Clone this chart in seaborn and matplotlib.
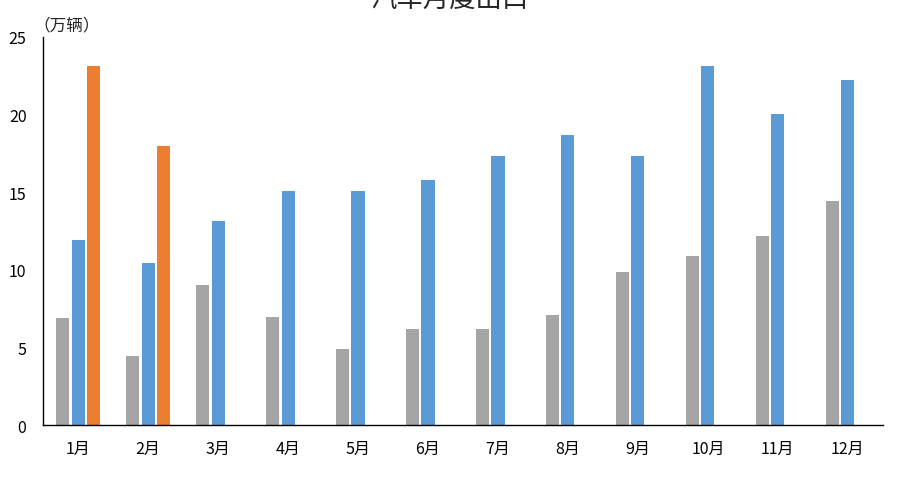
import numpy as np
import pandas as pd
import matplotlib
matplotlib.use("Agg")
import matplotlib.pyplot as plt
import seaborn as sns

months = ["1月", "2月", "3月", "4月", "5月", "6月", "7月", "8月", "9月", "10月", "11月", "12月"]
years = ["2020年", "2021年", "2022年"]
exports_2020 = [6.9, 4.45, 9.0, 6.95, 4.9, 6.2, 6.2, 7.1, 9.85, 10.9, 12.2, 14.45]
exports_2021 = [11.9, 10.45, 13.15, 15.1, 15.1, 15.8, 17.35, 18.7, 17.3, 23.1, 20.0, 22.25]
exports_2022 = [23.1, 18.0, None, None, None, None, None, None, None, None, None, None]
colors = ["#A5A5A5", "#5B9BD5", "#ED7D31"]

sns.set_theme(style="white")
plt.rcParams["font.family"] = ["Noto Sans CJK SC", "DejaVu Sans"]

rows = []
for year, vals in zip(years, [exports_2020, exports_2021, exports_2022]):
    for m, v in zip(months, vals):
        rows.append({"month": m, "year": year, "value": np.nan if v is None else v})
df = pd.DataFrame(rows)

fig = plt.figure(figsize=(8.99, 4.81), dpi=100)
ax = fig.add_axes([0.048, 0.1143, 0.934, 0.807])

sns.barplot(data=df, x="month", y="value", hue="year", order=months,
            hue_order=years, palette=colors, width=0.66, gap=0.15,
            saturation=1, errorbar=None, linewidth=0, ax=ax)

ax.set_xlim(-0.5, 11.5)
ax.set_ylim(0, 25)
ax.set_yticks([0, 5, 10, 15, 20, 25])
ax.set_xlabel("")
ax.set_ylabel("")
ax.tick_params(axis="both", length=0, labelsize=11.5, colors="black")
ax.tick_params(axis="x", pad=11)
ax.tick_params(axis="y", pad=12)
for side in ["top", "right"]:
    ax.spines[side].set_visible(False)
for side in ["left", "bottom"]:
    ax.spines[side].set_color("black")
    ax.spines[side].set_linewidth(1.0)

ax.text(-0.012, 1.01, "（万辆）", transform=ax.transAxes, fontsize=12,
        ha="left", va="bottom")

fig.text(0.5, 1.002, "汽车月度出口", ha="center", va="center", fontsize=19)

# legend sits at the bottom edge, mostly clipped as in the source image
leg = ax.legend(loc="upper center", bbox_to_anchor=(0.5, 0.022),
                bbox_transform=fig.transFigure, ncol=3, frameon=False,
                fontsize=11.5, handlelength=0.7, handleheight=0.7,
                columnspacing=1.5, handletextpad=0.4)

fig.savefig("out.png", dpi=100)
